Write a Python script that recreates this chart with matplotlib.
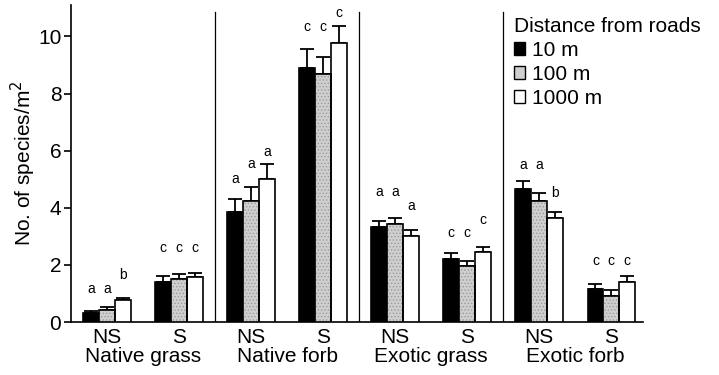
#!/usr/bin/env python3
"""
Species richness by distance from roads (grouped bar chart)
"""

import numpy as np
import matplotlib
matplotlib.use('Agg')
import matplotlib.pyplot as plt
from matplotlib.patches import Patch

plt.rcParams['font.family'] = ['Liberation Sans', 'DejaVu Sans']
plt.rcParams['hatch.linewidth'] = 0.6

# Data
categories = ['Native grass', 'Native forb', 'Exotic grass', 'Exotic forb']
sub_labels = ['NS', 'S', 'NS', 'S', 'NS', 'S', 'NS', 'S']
series_names = ['10 m', '100 m', '1000 m']

mean_10m = [0.30, 1.41, 3.85, 8.89, 3.33, 2.21, 4.65, 1.14]
mean_100m = [0.42, 1.49, 4.23, 8.69, 3.43, 1.96, 4.24, 0.91]
mean_1000m = [0.77, 1.58, 5.02, 9.78, 3.02, 2.44, 3.65, 1.41]

se_10m = [0.08, 0.21, 0.47, 0.68, 0.21, 0.19, 0.29, 0.19]
se_100m = [0.09, 0.19, 0.50, 0.59, 0.20, 0.18, 0.28, 0.21]
se_1000m = [0.08, 0.12, 0.50, 0.60, 0.20, 0.19, 0.21, 0.20]

letters_10m = ['a', 'c', 'a', 'c', 'a', 'c', 'a', 'c']
letters_100m = ['a', 'c', 'a', 'c', 'a', 'c', 'a', 'c']
letters_1000m = ['b', 'c', 'a', 'c', 'a', 'c', 'b', 'c']

# height (baseline) of significance letters, as drawn in the original
letter_y_10m = [1.00, 2.46, 4.87, 10.19, 4.41, 2.96, 5.37, 1.99]
letter_y_100m = [1.00, 2.46, 5.40, 10.19, 4.41, 2.96, 5.37, 1.99]
letter_y_1000m = [1.49, 2.46, 5.81, 10.68, 3.92, 3.42, 4.38, 1.99]

FS = 15


def draw_bars(ax, xpos, vals, color, width):
    """Bars; the grey series gets a fine stipple like the print original"""
    if color == 'grey':
        ax.bar(xpos, vals, width, color='#cfcfcf', edgecolor='#9a9a9a',
               hatch='.....', linewidth=0, zorder=3)
        ax.bar(xpos, vals, width, fill=False, edgecolor='black',
               linewidth=1.2, zorder=4)
    else:
        ax.bar(xpos, vals, width, color=color, edgecolor='black',
               linewidth=1.2, zorder=3)


def main():
    fig = plt.figure(figsize=(7.19, 3.75), dpi=100)
    ax = fig.add_axes([71 / 719, 53 / 375, (643 - 71) / 719, 317 / 375])

    x = np.arange(len(sub_labels))
    width = 0.22
    colors = ['black', 'grey', 'white']
    means = [mean_10m, mean_100m, mean_1000m]
    ses = [se_10m, se_100m, se_1000m]
    letters = [letters_10m, letters_100m, letters_1000m]
    letter_ys = [letter_y_10m, letter_y_100m, letter_y_1000m]

    for i in range(3):
        xpos = x + (i - 1) * width
        draw_bars(ax, xpos, means[i], colors[i], width)
        ax.errorbar(xpos, means[i], yerr=[np.zeros(len(x)), ses[i]],
                    fmt='none', ecolor='black', elinewidth=1.3,
                    capsize=5, capthick=1.3, zorder=2)
        for xp, lt, ly in zip(xpos, letters[i], letter_ys[i]):
            ax.text(xp, ly, lt, ha='center', va='baseline', fontsize=10)

    # separators between plant groups
    for sep in [1.5, 3.5, 5.5]:
        ax.axvline(sep, ymin=0, ymax=10.85 / 11.1, color='black',
                   linewidth=0.9, zorder=1)

    ax.set_xlim(-0.5, 7.44)
    ax.set_ylim(0, 11.1)
    ax.set_yticks([0, 2, 4, 6, 8, 10])
    ax.tick_params(axis='y', labelsize=FS, length=5, width=1.2,
                   direction='out', pad=2)
    ax.set_xticks([])
    for xi, lab in zip(x, sub_labels):
        ax.text(xi, -0.74, lab, ha='center', va='baseline', fontsize=FS)
    for k, cat in enumerate(categories):
        ax.text(2 * k + 0.5, -1.41, cat, ha='center', va='baseline',
                fontsize=FS)

    ax.spines['top'].set_visible(False)
    ax.spines['right'].set_visible(False)
    ax.spines['left'].set_linewidth(1.2)
    ax.spines['bottom'].set_linewidth(1.2)
    ax.set_ylabel('No. of species/m$^2$', fontsize=FS)
    ax.yaxis.set_label_coords(-0.058, 0.5)

    handles = [Patch(facecolor='black', edgecolor='black', linewidth=1.0),
               Patch(facecolor='#cfcfcf', edgecolor='black', linewidth=1.0),
               Patch(facecolor='white', edgecolor='black', linewidth=1.0)]
    leg = ax.legend(handles, series_names, title='Distance from roads',
                    loc='upper left', bbox_to_anchor=(514 / 719, 358 / 375),
                    bbox_transform=fig.transFigure, frameon=False,
                    fontsize=FS, title_fontsize=FS, handlelength=0.55,
                    handleheight=0.55, handletextpad=0.3, labelspacing=0.24,
                    borderaxespad=0, borderpad=0)
    leg._legend_box.align = 'left'
    leg._legend_box._children[0].sep = 4

    fig.savefig('out.png', dpi=100)
    plt.close(fig)


if __name__ == "__main__":
    main()
